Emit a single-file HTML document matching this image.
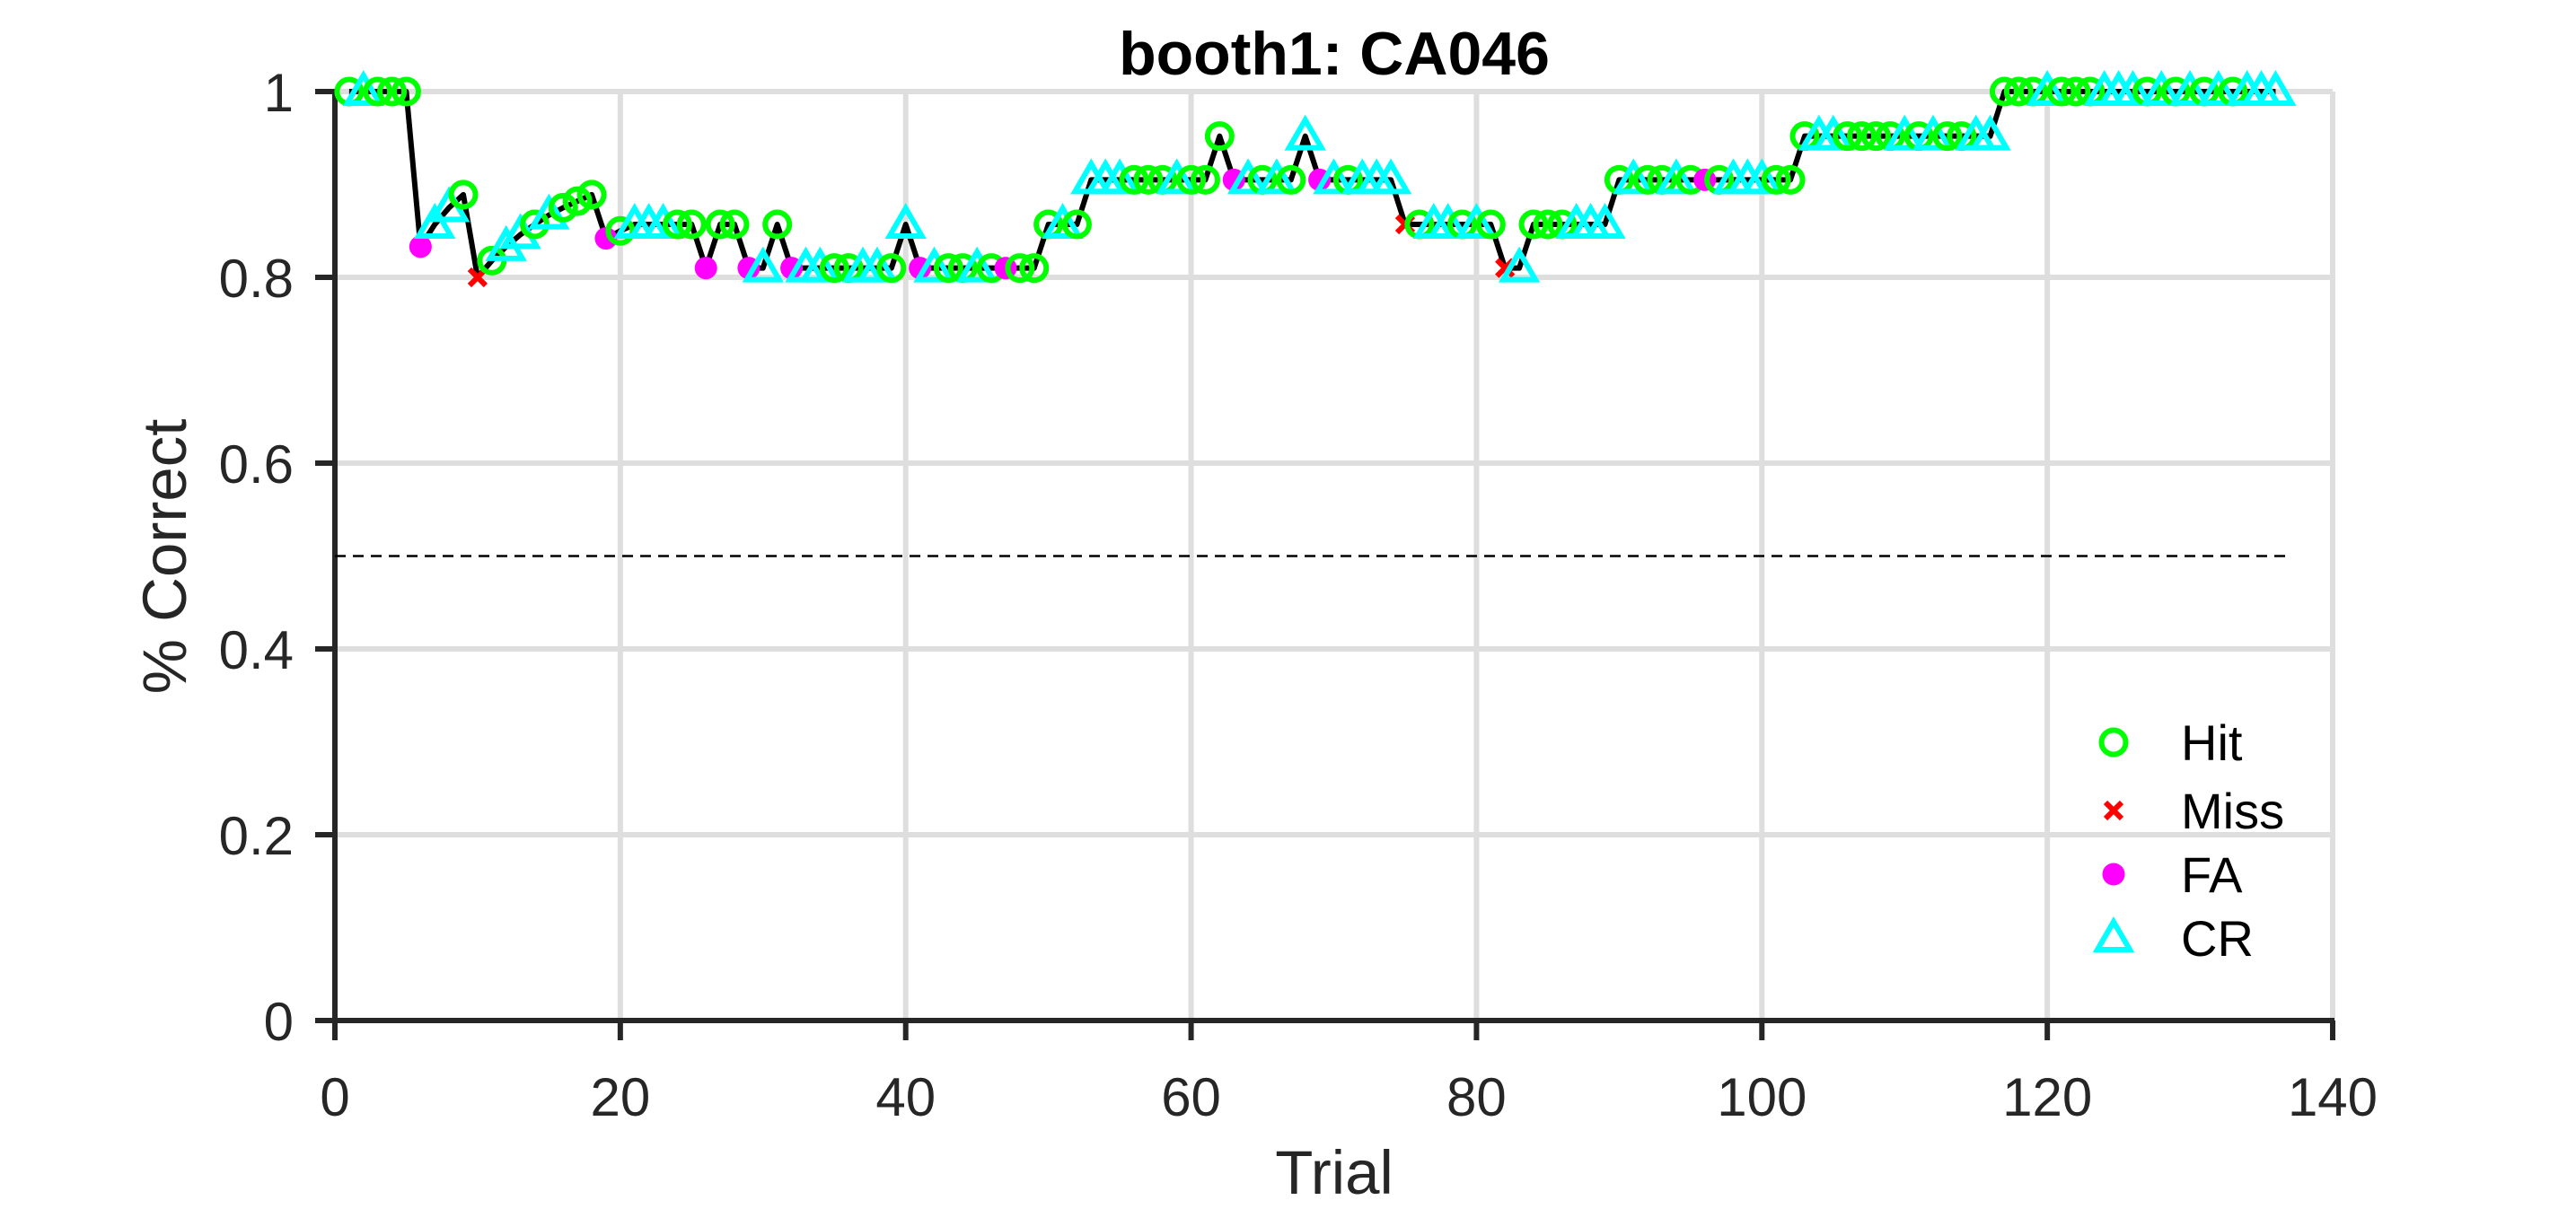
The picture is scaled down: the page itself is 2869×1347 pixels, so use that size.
<!DOCTYPE html>
<html><head><meta charset="utf-8"><style>
html,body{margin:0;padding:0;background:#fff;}
svg{display:block;font-family:"Liberation Sans",Arial,sans-serif;}
</style></head><body>
<svg id="chart" width="2869" height="1347" viewBox="0 0 2869 1347" xmlns="http://www.w3.org/2000/svg">
<rect width="2869" height="1347" fill="#fff"/>
<g id="grid"></g>
<g id="axes"></g>
<g id="series"></g>
<text x="1486" y="83" text-anchor="middle" font-size="68" font-weight="bold" fill="#000">booth1: CA046</text>
<text x="1486" y="1330" text-anchor="middle" font-size="69" fill="#262626">Trial</text>
<text transform="translate(207,620) rotate(-90)" text-anchor="middle" font-size="69" fill="#262626">% Correct</text>
<g id="legend"></g>
</svg>
<script>
// outcome per trial: H=Hit, M=Miss, F=FA, C=CR
const outcomes = "HCHHHFCCHMHCCHCHHHFHCCCHHFHHFCHFCCHHCCHCFCHHCHFHHHCHCCCHHHCHHHFCHCHCFCHCCCMHCCHCHMCHHHCCCHCHHCHFHCCCHHHCCHHHHCHCHHCCHHHCHHHCCCHCHCHCHCCCH".split("");
// accuracy value per trial
const accuracy = [
1,1,1,1,1,0.833,0.857,0.875,0.889,0.8,
0.818,0.833,0.846,0.857,0.867,0.875,0.882,0.889,0.842,0.85,
0.857,0.857,0.857,0.857,0.857,0.81,0.857,0.857,0.81,0.81,
0.857,0.81,0.81,0.81,0.81,0.81,0.81,0.81,0.81,0.857,
0.81,0.81,0.81,0.81,0.81,0.81,0.81,0.81,0.81,0.857,
0.857,0.857,0.905,0.905,0.905,0.905,0.905,0.905,0.905,0.905,
0.905,0.952,0.905,0.905,0.905,0.905,0.905,0.952,0.905,0.905,
0.905,0.905,0.905,0.905,0.857,0.857,0.857,0.857,0.857,0.857,
0.857,0.81,0.81,0.857,0.857,0.857,0.857,0.857,0.857,0.905,
0.905,0.905,0.905,0.905,0.905,0.905,0.905,0.905,0.905,0.905,
0.905,0.905,0.952,0.952,0.952,0.952,0.952,0.952,0.952,0.952,
0.952,0.952,0.952,0.952,0.952,0.952,1,1,1,1,
1,1,1,1,1,1,1,1,1,1,
1,1,1,1,1,1];
const xTicks = [0,20,40,60,80,100,120,140];
const yTicks = [0,0.2,0.4,0.6,0.8,1];
const yTickLabels = ["0","0.2","0.4","0.6","0.8","1"];
const chanceLevel = 0.5;
const legendLabels = ["Hit","Miss","FA","CR"];

const NS="http://www.w3.org/2000/svg";
const X0=373,X1=2598,Y0=1137,Y1=102;
const sx=v=>X0+(v-0)/(140-0)*(X1-X0);
const sy=v=>Y0-(v-0)/(1-0)*(Y0-Y1);
function mk(tag,attrs,parent){const e=document.createElementNS(NS,tag);for(const k in attrs)e.setAttribute(k,attrs[k]);parent.appendChild(e);return e;}
const grid=document.getElementById('grid'),axes=document.getElementById('axes'),ser=document.getElementById('series'),leg=document.getElementById('legend');

xTicks.forEach(t=>{if(t===0)return;const l=mk('line',{x1:sx(t),x2:sx(t),y1:Y1,y2:Y0,stroke:'#dedede','stroke-width':6},grid);

});
yTicks.forEach(t=>{if(t===0)return;const l=mk('line',{x1:X0,x2:X1,y1:sy(t),y2:sy(t),stroke:'#dedede','stroke-width':6},grid);

});

const ax1=mk('line',{x1:X0,x2:X0,y1:Y1-3,y2:Y0+2,stroke:'#262626','stroke-width':6},axes);


const ax2=mk('line',{x1:X0-2,x2:X1+2,y1:Y0,y2:Y0,stroke:'#262626','stroke-width':6},axes);


xTicks.forEach(t=>{const tk=mk('line',{x1:sx(t),x2:sx(t),y1:Y0,y2:Y0+22,stroke:'#262626','stroke-width':6},axes);


const tx=mk('text',{x:sx(t),y:1243,'text-anchor':'middle','font-size':60,fill:'#262626'},axes);tx.textContent=String(t);

});
yTicks.forEach((t,i)=>{const tk=mk('line',{x1:X0-22,x2:X0,y1:sy(t),y2:sy(t),stroke:'#262626','stroke-width':6},axes);


const tx=mk('text',{x:327,y:sy(t)+22,'text-anchor':'end','font-size':60,fill:'#262626'},axes);tx.textContent=yTickLabels[i];

});

const ch=mk('line',{x1:sx(0),x2:sx(outcomes.length),y1:sy(chanceLevel),y2:sy(chanceLevel),stroke:'#000','stroke-width':2.5,'stroke-dasharray':'12,8'},ser);



const pts=accuracy.map((v,i)=>sx(i+1)+','+sy(v)).join(' ');
const pl=mk('polyline',{points:pts,fill:'none',stroke:'#000','stroke-width':6,'stroke-linejoin':'round'},ser);



function marker(type,x,y,parent){
  let e;
  if(type==='H'){e=mk('circle',{cx:x,cy:y,r:13.5,fill:'none',stroke:'#00ff00','stroke-width':6},parent);}
  else if(type==='M'){e=mk('path',{d:`M${x-9},${y-9}L${x+9},${y+9}M${x-9},${y+9}L${x+9},${y-9}`,stroke:'#ff0000','stroke-width':6,fill:'none'},parent);}
  else if(type==='F'){e=mk('circle',{cx:x,cy:y,r:12.5,fill:'#ff00ff'},parent);}
  else {e=mk('path',{d:`M${x},${y-18}L${x+18},${y+13}L${x-18},${y+13}Z`,fill:'none',stroke:'#00ffff','stroke-width':6,'stroke-linejoin':'miter'},parent);}
  return e;
}
const nameMap={H:'hit-marker',M:'miss-marker',F:'fa-marker',C:'cr-marker'};
accuracy.forEach((v,i)=>{const m=marker(outcomes[i],sx(i+1),sy(v),ser);

});

const legTypes=['H','M','F','C'],legY=[827,903,974,1045];
legTypes.forEach((t,i)=>{const m=marker(t,2354,legY[i],leg);


const tx=mk('text',{x:2429,y:legY[i]+20,'font-size':56,fill:'#000'},leg);tx.textContent=legendLabels[i];

});
</script>
</body></html>
